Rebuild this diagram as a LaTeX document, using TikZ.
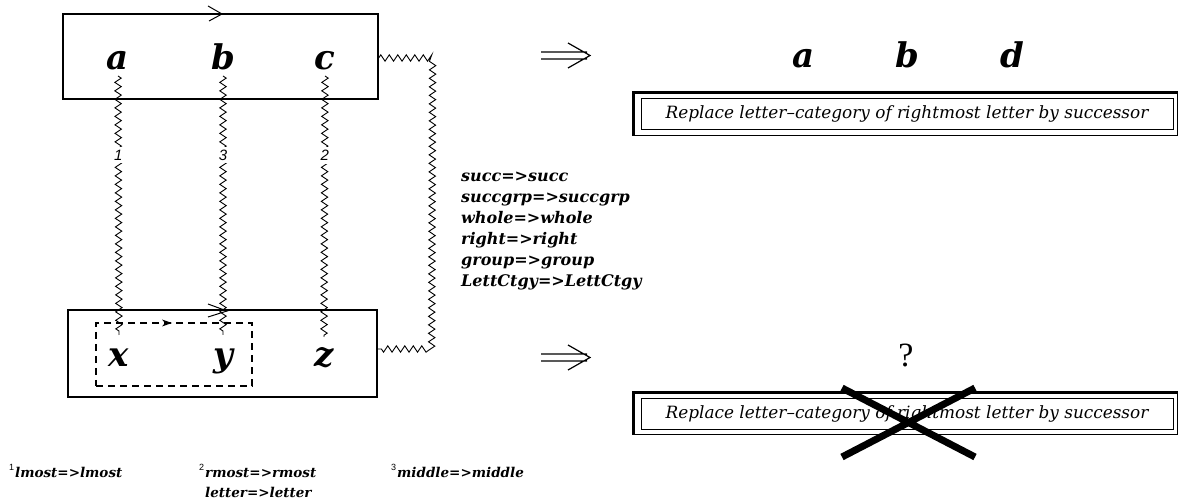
\documentclass[tikz,border=0pt]{standalone}
\usepackage{fontspec}
\setmainfont{DejaVu Serif}
\newfontfamily\libserif{Liberation Serif}
\newfontfamily\libsans{Liberation Sans}
\usetikzlibrary{decorations.pathmorphing,calc}

\tikzset{
  big/.style={font=\fontsize{34}{40}\selectfont\bfseries\itshape, inner sep=0pt, anchor=base},
  zz/.style={decorate, decoration={zigzag, segment length=8.5pt, amplitude=3.2pt}, line width=0.9pt},
  lbl/.style={font=\libsans\itshape\fontsize{15}{16}\selectfont, fill=white, inner xsep=1pt, inner ysep=3pt},
  box/.style={draw, line width=1.3pt, inner sep=0pt},
  dbox/.style={draw, line width=1.1pt, dash pattern=on 7pt off 5pt, inner sep=0pt},
  rules/.style={font=\bfseries\itshape\fontsize{16}{21}\selectfont, align=left, anchor=north west, inner sep=0pt},
  foot/.style={font=\bfseries\itshape\fontsize{13.5}{20}\selectfont, align=left, anchor=base west, inner sep=0pt},
  repl/.style={draw, line width=0.9pt, minimum width=532pt, minimum height=31pt, inner sep=0pt, font=\itshape\fontsize{16.9}{19}\selectfont},
  arr/.style={line width=1.2pt},
  chev/.style={line width=1pt},
  cross/.style={line width=7pt},
}
\newcommand{\supn}[1]{\raisebox{7pt}{\libsans\upshape\mdseries\fontsize{9}{10}\selectfont #1}\hspace{1pt}}

\begin{document}
\begin{tikzpicture}[x=1pt,y=-1pt]
\useasboundingbox (0,0) rectangle (1178,502);

% left boxes
\node[box, minimum width=315pt, minimum height=85pt] (top) at (220.5,56.5) {};
\node[box, minimum width=309pt, minimum height=87pt] (bot) at (222.5,353.5) {};
\node[dbox, minimum width=156pt, minimum height=63pt] (dash) at (174,354.5) {};

% letters
\node[big] (a) at (118,70) {a};
\node[big] (b) at (223,70) {b};
\node[big] (c) at (325,70) {c};
\node[big] (x) at (119,367) {x};
\node[big] (y) at (223,367) {y};
\node[big] (z) at (324,367) {z};

% chevrons on box edges
\draw[chev] (208,6) -- (222,14) -- (209,21);
\draw[chev] (208,304) -- (227,311) -- (208,317);
\fill (162,319.5) -- (172,323) -- (162,326.5) -- (165,323) -- cycle;

% squiggles
\draw[zz] ($(a.base)+(0,6)$) -- node[lbl, pos=0.305] {1} ($(x.base)+(0,-32)$);
\draw[zz] ($(b.base)+(0,6)$) -- node[lbl, pos=0.305] {3} ($(y.base)+(0,-32)$);
\draw[zz] ($(c.base)+(0,6)$) -- node[lbl, pos=0.305] {2} ($(z.base)+(0,-30)$);
\draw[zz] ([yshift=-1.5pt]top.east) -- ([xshift=54pt,yshift=-1.5pt]top.east) -- ([xshift=54pt,yshift=4.5pt]bot.east) -- ([yshift=4.5pt]bot.east);

% rules text
\node[rules] (rl) at (461,172) {succ=>succ\\succgrp=>succgrp\\whole=>whole\\right=>right\\group=>group\\LettCtgy=>LettCtgy};

% footnotes
\node[foot] (f1) at (9,477) {\supn{1}lmost=>lmost};
\node[foot] (f2) at (199,497) {\supn{2}rmost=>rmost\\\hspace*{6pt}letter=>letter};
\node[foot] (f3) at (391,477) {\supn{3}middle=>middle};

% double arrows
\draw[arr] (541,52) -- (587,52) (541,59) -- (587,59) (568,43) -- (590,55.5) -- (568,68);
\draw[arr] (541,354) -- (587,354) (541,361) -- (587,361) (568,345) -- (590,357.5) -- (568,370);

% right top
\node[big] (ra) at (804,68) {a};
\node[big] (rb) at (907,68) {b};
\node[big] (rd) at (1012,68) {d};
\node[repl] (r1) at (907,113.5) {Replace letter–category of rightmost letter by successor};
\draw[line width=1.6pt] ([shift={(-8,6)}]r1.south west) rectangle ([shift={(4,-6)}]r1.north east);
\draw[line width=3pt] ([shift={(-7.5,6.5)}]r1.south west) -- ([shift={(-7.5,-5)}]r1.north west) -- ([shift={(4,-5)}]r1.north east);

% right bottom
\node[font=\libserif\fontsize{34}{40}\selectfont, inner sep=0pt, anchor=base] (q) at (906,367) {?};
\node[repl] (r2) at (907,413.5) {Replace letter–category of rightmost letter by successor};
\draw[line width=1.6pt] ([shift={(-8,5)}]r2.south west) rectangle ([shift={(4,-6)}]r2.north east);
\draw[line width=3pt] ([shift={(-7.5,5.5)}]r2.south west) -- ([shift={(-7.5,-5)}]r2.north west) -- ([shift={(4,-5)}]r2.north east);
\draw[cross] (842,388) -- (975,457) (975,388) -- (842,457);
\end{tikzpicture}
\end{document}
